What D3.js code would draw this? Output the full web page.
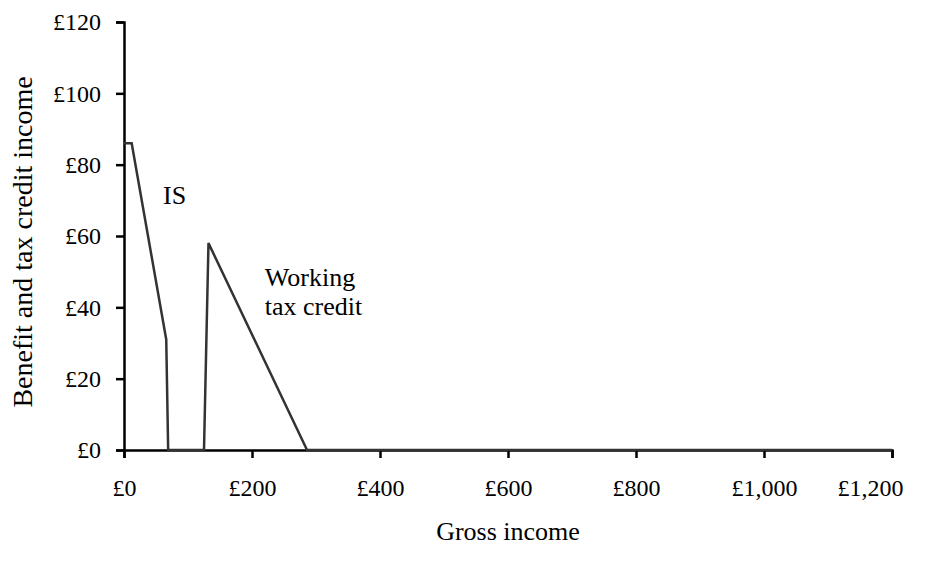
<!DOCTYPE html>
<html>
<head>
<meta charset="utf-8">
<script src="https://cdn.jsdelivr.net/npm/d3@7"></script>
<style>
  body { margin: 0; background: #fff; }
  text { font-family: 'Liberation Serif', 'Times New Roman', Times, serif; }
</style>
</head>
<body>
<svg id="chart" width="928" height="574"></svg>
<script>
// gross income (£) and benefit + tax credit income (£)
const grossIncome = [0, 12, 66, 69, 125, 132, 286, 1200];
const benefitIncome = [86, 86, 31, 0, 0, 58, 0, 0];

const xTicks = [0, 200, 400, 600, 800, 1000, 1200];
const yTicks = [0, 20, 40, 60, 80, 100, 120];

const annotations = [
  {x: 61, y: 69, lines: ["IS"]},
  {x: 220, y: 46, lines: ["Working", "tax credit"]}
];

const FONT = "'Liberation Serif', 'Times New Roman', Times, serif";

const svg = d3.select("#chart");
const margin = {top: 22, right: 36, bottom: 124, left: 124};
const width = +svg.attr("width") - margin.left - margin.right;
const height = +svg.attr("height") - margin.top - margin.bottom;

const x = d3.scaleLinear().domain([0, 1200]).range([0, width]);
const y = d3.scaleLinear().domain([0, 120]).range([height, 0]);

const g = svg.append("g")
  .attr("transform", "translate(" + margin.left + "," + margin.top + ")");

const money = d => "£" + d3.format(",")(d);

const xAxis = g.append("g")
  .attr("transform", `translate(0, ${height})`)
  .call(d3.axisBottom(x).tickValues(xTicks).tickFormat(money).tickSize(8).tickPadding(21));

const yAxis = g.append("g")
  .call(d3.axisLeft(y).tickValues(yTicks).tickFormat(money).tickSize(8).tickPadding(15));

[xAxis, yAxis].forEach(ax => {
  ax.attr("font-family", FONT).attr("font-size", 24);
  ax.selectAll("path.domain").attr("stroke", "#000").attr("stroke-width", 2.5);
  ax.selectAll(".tick line").attr("stroke", "#000").attr("stroke-width", 2.5);
  ax.selectAll(".tick text").attr("fill", "#000");
});

// last x label is pulled in to stay inside the chart area, like Excel does
xAxis.selectAll(".tick text")
  .filter(d => d === xTicks[xTicks.length - 1])
  .attr("text-anchor", "end")
  .attr("x", 11);

const line = d3.line()
  .x((d, i) => x(grossIncome[i]))
  .y(d => y(d));

g.append("path")
  .datum(benefitIncome)
  .attr("fill", "none")
  .attr("stroke", "#333")
  .attr("stroke-width", 2.5)
  .attr("d", line);

annotations.forEach(a => {
  const t = g.append("text")
    .attr("x", x(a.x))
    .attr("y", y(a.y))
    .attr("font-family", FONT)
    .attr("font-size", 26);
  a.lines.forEach((s, i) => {
    t.append("tspan").attr("x", x(a.x)).attr("dy", i ? 29 : 0).text(s);
  });
});

// axis titles
svg.append("text")
  .attr("x", margin.left + x(600))
  .attr("y", 540)
  .attr("text-anchor", "middle")
  .attr("font-family", FONT)
  .attr("font-size", 26)
  .text("Gross income");

svg.append("text")
  .attr("transform", "translate(32, 242) rotate(-90)")
  .attr("text-anchor", "middle")
  .attr("font-family", FONT)
  .attr("font-size", 28)
  .text("Benefit and tax credit income");
</script>
</body>
</html>
